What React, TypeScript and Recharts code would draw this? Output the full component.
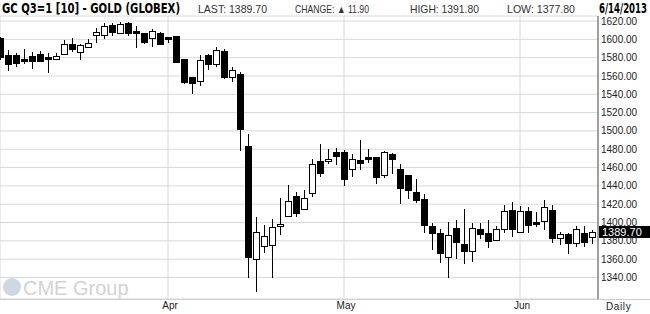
import React from 'react';
import { ComposedChart, Bar, XAxis, YAxis, CartesianGrid, ReferenceLine } from 'recharts';

const dates = [
  '2013-02-28',
  '2013-03-01','2013-03-04','2013-03-05','2013-03-06','2013-03-07','2013-03-08','2013-03-11','2013-03-12','2013-03-13','2013-03-14',
  '2013-03-15','2013-03-18','2013-03-19','2013-03-20','2013-03-21','2013-03-22','2013-03-25','2013-03-26','2013-03-27','2013-03-28',
  '2013-04-01','2013-04-02','2013-04-03','2013-04-04','2013-04-05','2013-04-08','2013-04-09','2013-04-10','2013-04-11','2013-04-12',
  '2013-04-15','2013-04-16','2013-04-17','2013-04-18','2013-04-19','2013-04-22','2013-04-23','2013-04-24','2013-04-25','2013-04-26',
  '2013-04-29','2013-04-30',
  '2013-05-01','2013-05-02','2013-05-03','2013-05-06','2013-05-07','2013-05-08','2013-05-09','2013-05-10','2013-05-13','2013-05-14',
  '2013-05-15','2013-05-16','2013-05-17','2013-05-20','2013-05-21','2013-05-22','2013-05-23','2013-05-24','2013-05-28','2013-05-29',
  '2013-05-30','2013-05-31',
  '2013-06-03','2013-06-04','2013-06-05','2013-06-06','2013-06-07','2013-06-10','2013-06-11','2013-06-12','2013-06-13','2013-06-14',
];

const opens = [
  1602,
  1583, 1583, 1579, 1582, 1584.5, 1580.3, 1578.7, 1583.5, 1594.5, 1585.7,
  1591.2, 1604.4, 1604.4, 1615.3, 1606.5, 1617.5, 1609, 1606.5, 1601, 1606.5,
  1602.5, 1603.6, 1578.4, 1558.7, 1554, 1582.8, 1572.6, 1587.2, 1558.7, 1562,
  1484, 1360, 1374.6, 1375.5, 1396, 1407.3, 1429, 1415, 1432.5, 1467.5,
  1467, 1476.6,
  1477.4, 1458.7, 1468.6, 1472, 1472, 1452, 1474.4, 1458.7, 1451.4, 1432.8,
  1426, 1396.7, 1388.8, 1362, 1394, 1377, 1369, 1393, 1388.7, 1381,
  1393, 1414,
  1389.8, 1412.8, 1401, 1401.8, 1414, 1382.8, 1387.6, 1377.3, 1388.7, 1384,
];

const highs = [
  1603,
  1588, 1585, 1590, 1586, 1587, 1584.6, 1584.6, 1599, 1601.7, 1594.8,
  1600.3, 1612, 1617.5, 1617.5, 1619.2, 1618.6, 1614.5, 1606.5, 1611, 1607.6,
  1602.5, 1603.6, 1578.4, 1558.7, 1583, 1584, 1591.5, 1589.4, 1569.6, 1564.5,
  1497, 1406.5, 1397.5, 1404, 1427, 1441.5, 1433, 1436, 1469.7, 1486,
  1480.7, 1481.7,
  1479.6, 1475, 1489.7, 1480.7, 1472, 1477.7, 1475.5, 1463.5, 1451.4, 1447,
  1431.4, 1399.6, 1393, 1401, 1403, 1415, 1399.6, 1399.6, 1403, 1396.7,
  1419.4, 1422.6,
  1418.3, 1417.2, 1412, 1425, 1419.4, 1390, 1388.7, 1396.7, 1396.3, 1391.8,
];

const lows = [
  1579,
  1567, 1571, 1574, 1569, 1576, 1564.5, 1578.7, 1583.5, 1587, 1578.7,
  1591.2, 1597.3, 1601.7, 1605, 1606.5, 1605, 1592, 1596.2, 1593, 1595,
  1596.7, 1575, 1552, 1541.5, 1550, 1568, 1571, 1558, 1554.7, 1479.5,
  1340, 1325, 1367.5, 1341, 1388, 1407.3, 1407, 1415, 1429, 1450.7,
  1465, 1464,
  1441.5, 1450.7, 1458, 1465.7, 1443, 1449.6, 1454, 1421, 1426.6, 1422.2,
  1389.5, 1370.7, 1356.5, 1340, 1361, 1355.4, 1357.6, 1382.8, 1373.7, 1381,
  1389.8, 1385,
  1389.8, 1389.8, 1396, 1392.7, 1378.4, 1376.7, 1366.4, 1374, 1374, 1377.8,
];

const closes = [
  1581,
  1573, 1574, 1576.5, 1576.5, 1576.5, 1578.7, 1581.7, 1594.5, 1589, 1593.4,
  1595.6, 1607.6, 1614.2, 1608.3, 1616.4, 1607.2, 1606.5, 1597.3, 1609, 1595,
  1601, 1575.5, 1553.6, 1552.5, 1577, 1572.6, 1588.3, 1559, 1566, 1502,
  1362, 1389.3, 1385.6, 1395, 1398.5, 1423.7, 1410.6, 1427, 1464, 1454.4,
  1469.7, 1472.5,
  1447.4, 1469.7, 1465, 1469, 1449.6, 1476.6, 1469.3, 1437.5, 1435.8, 1425,
  1397, 1388.3, 1366.4, 1386.5, 1378.5, 1368.5, 1394, 1387.2, 1379.5, 1393,
  1412.8, 1393,
  1412.8, 1397.5, 1398.5, 1417.2, 1382.8, 1387.6, 1377.3, 1393, 1378.8, 1389.7,
];

const monthTicks = [21, 43, 65];
const monthLabels = ['Apr', 'May', 'Jun'];
const priceTicks = [1340, 1360, 1380, 1400, 1420, 1440, 1460, 1480, 1500, 1520, 1540, 1560, 1580, 1600, 1620];

const lastPrice = 1389.7;
const headerTitle = 'GC Q3=1 [10] - GOLD (GLOBEX)';
const headerLast = 'LAST: 1389.70';
const headerChange = 'CHANGE: \u25B2 11.90';
const headerHigh = 'HIGH: 1391.80';
const headerLow = 'LOW: 1377.80';
const headerDate = '6/14/2013';

const data = dates.map((d, i) => ({
  i,
  date: d,
  open: opens[i],
  high: highs[i],
  low: lows[i],
  close: closes[i],
}));

const Candle = (props: any) => {
  const { x, y, width, height, payload } = props;
  if (x == null || y == null || !payload) return null;
  const top = Math.min(y, y + height);
  const bot = Math.max(y, y + height);
  const { open, high, low, close } = payload;
  const span = high - low || 1;
  const toY = (v: number) => top + ((high - v) / span) * (bot - top);
  const cx = Math.round(x + width / 2);
  const up = close >= open;
  const yHigh = Math.round(toY(high));
  const yLow = Math.round(toY(low));
  let bTop = Math.round(toY(Math.max(open, close)));
  let bBot = Math.round(toY(Math.min(open, close)));
  if (bBot - bTop < 2) bBot = bTop + 2;
  return (
    <g>
      <line x1={cx + 0.5} x2={cx + 0.5} y1={yHigh} y2={yLow + 1} stroke="#000" strokeWidth={1} />
      <rect
        x={cx - 2.5}
        y={bTop + 0.5}
        width={6}
        height={bBot - bTop}
        fill={up ? '#fff' : '#000'}
        stroke="#000"
        strokeWidth={1}
      />
    </g>
  );
};

const LastLabel = (props: any) => {
  const vb = props.viewBox || {};
  const yy = vb.y;
  const xx = vb.x + vb.width + 1;
  return (
    <g>
      <rect x={xx} y={yy - 6} width={52} height={12} fill="#000" />
      <text
        x={xx + 3}
        y={yy + 4}
        fill="#fff"
        fontSize={11}
        fontFamily="'Liberation Sans', Arial, sans-serif"
      >
        {lastPrice.toFixed(2)}
      </text>
    </g>
  );
};

const fontNarrow = "'Liberation Sans Narrow', 'DejaVu Sans Condensed', 'Liberation Sans', sans-serif";
const fontSans = "'Liberation Sans', Arial, sans-serif";

export default function App() {
  return (
    <div style={{ position: 'absolute', left: 0, top: 0, width: 650, height: 314, background: '#fff' }}>
      <svg width={650} height={314} style={{ position: 'absolute', left: 0, top: 0 }}>
        <circle cx={12} cy={287} r={9} fill="#cdd8e2" />
        <text x={23} y={295} fontSize={20} fill="#d3d3d3" fontFamily={fontSans}>
          CME Group
        </text>
      </svg>
      <div style={{ position: 'absolute', left: 0, top: 0 }}>
        <ComposedChart
          width={650}
          height={314}
          data={data}
          margin={{ top: 16, right: 0, bottom: 0, left: 0 }}
          style={{ background: 'transparent' }}
        >
          <CartesianGrid stroke="#d8d8d8" strokeWidth={1} />
          <XAxis
            type="number"
            dataKey="i"
            domain={[0, 74.75]}
            allowDataOverflow
            ticks={monthTicks}
            tickFormatter={(v: number) => monthLabels[monthTicks.indexOf(v)] || ''}
            tickLine={false}
            axisLine={false}
            tickSize={0}
            tickMargin={3}
            height={15}
            interval={0}
            tick={{ fontSize: 10, fill: '#222', fontFamily: fontSans, dx: 2 }}
          />
          <YAxis
            orientation="right"
            type="number"
            domain={[1316.5, 1625.5]}
            allowDataOverflow
            ticks={priceTicks}
            interval={0}
            tickFormatter={(v: number) => v.toFixed(2)}
            tickLine={false}
            tickSize={0}
            tickMargin={3}
            width={52}
            axisLine={{ stroke: '#555', strokeWidth: 1 }}
            tick={{ fontSize: 10, fill: '#222', fontFamily: fontSans, textAnchor: 'start' }}
          />
          <Bar
            dataKey={(d: any) => [d.low, d.high]}
            barSize={6}
            shape={Candle}
            isAnimationActive={false}
          />
          <ReferenceLine y={lastPrice} stroke="none" label={LastLabel} ifOverflow="visible" />
        </ComposedChart>
      </div>
      <svg width={650} height={314} style={{ position: 'absolute', left: 0, top: 0, pointerEvents: 'none' }}>
        <line x1={0} x2={650} y1={299.5} y2={299.5} stroke="#cfcfcf" strokeWidth={1} />
        <text x={2} y={12.5} fontSize={13.5} fontWeight="bold" fill="#000" fontFamily={fontNarrow} textLength={178} lengthAdjust="spacingAndGlyphs">
          {headerTitle}
        </text>
        <text x={198} y={12.5} fontSize={10.5} fill="#333" fontFamily={fontSans} textLength={69} lengthAdjust="spacingAndGlyphs">
          {headerLast}
        </text>
        <text x={295} y={12.5} fontSize={10.5} fill="#333" fontFamily={fontSans} textLength={74} lengthAdjust="spacingAndGlyphs">
          {headerChange}
        </text>
        <text x={410} y={12.5} fontSize={10.5} fill="#333" fontFamily={fontSans} textLength={69} lengthAdjust="spacingAndGlyphs">
          {headerHigh}
        </text>
        <text x={507} y={12.5} fontSize={10.5} fill="#333" fontFamily={fontSans} textLength={68} lengthAdjust="spacingAndGlyphs">
          {headerLow}
        </text>
        <text x={599} y={12.5} fontSize={13.5} fontWeight="bold" fill="#000" fontFamily={fontNarrow} textLength={48} lengthAdjust="spacingAndGlyphs">
          {headerDate}
        </text>
        <text x={606} y={309.5} fontSize={10} fill="#222" fontFamily={fontSans} letterSpacing={0.6}>
          Daily
        </text>
      </svg>
    </div>
  );
}
